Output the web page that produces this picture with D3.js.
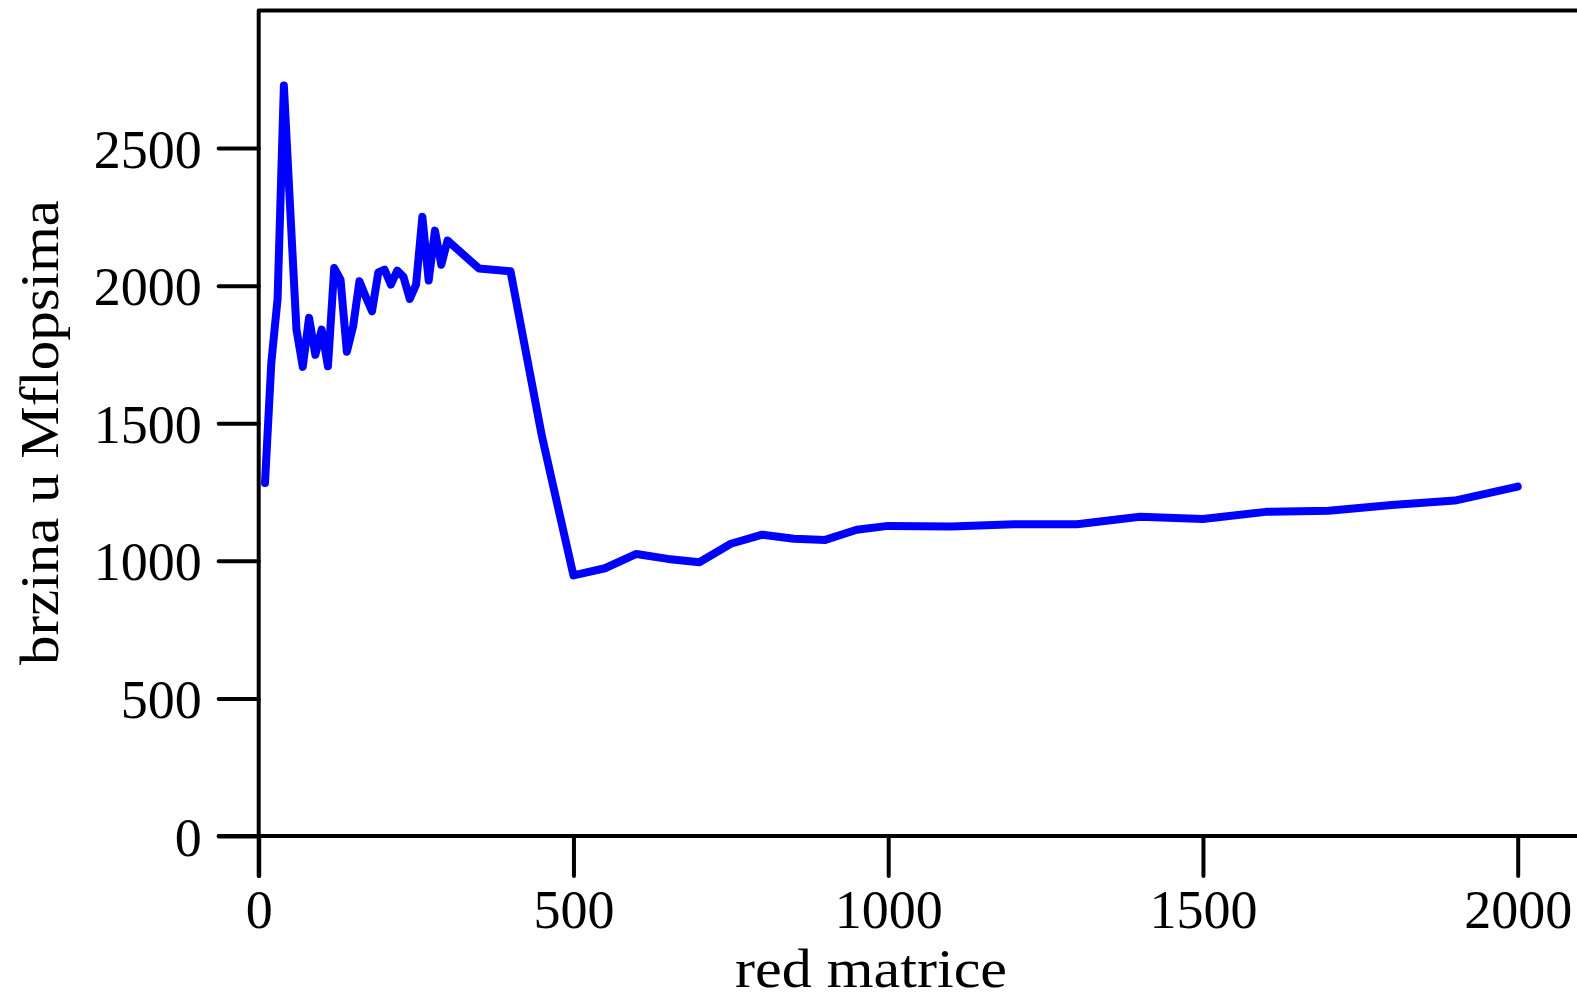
<!DOCTYPE html>
<html>
<head>
<meta charset="utf-8">
<script src="https://cdn.jsdelivr.net/npm/d3@7"></script>
<style>
  html, body { margin: 0; padding: 0; background: #fff; }
  svg { display: block; }
  text { font-family: "Liberation Serif", "DejaVu Serif", serif; fill: #000; }
</style>
</head>
<body>
<svg id="chart" width="1577" height="1000"></svg>
<script>
// Matrix size (red matrice)
const sizes = [10,20,30,40,50,60,70,80,90,100,110,120,130,140,150,160,170,180,190,200,
  210,220,230,240,250,260,270,280,290,300,350,400,450,500,550,600,650,700,750,800,
  850,900,950,1000,1100,1200,1300,1400,1500,1600,1700,1800,1900,2000];
// Speed in Mflops (brzina u Mflopsima)
const speed = [1283,1719,1952,2727,2280,1840,1705,1883,1749,1840,1707,2064,2022,1760,1852,2016,1960,1907,2048,2058,
  2004,2055,2032,1952,2004,2250,2019,2200,2076,2164,2062,2052,1452,947,973,1025,1007,995,1062,1095,
  1080,1076,1113,1127,1125,1133,1133,1160,1152,1178,1182,1203,1219,1270];
const xTicks = [0, 500, 1000, 1500, 2000];
const yTicks = [0, 500, 1000, 1500, 2000, 2500];
const xLabel = "red matrice";
const yLabel = "brzina u Mflopsima";

const W = 1577, H = 1000;
const svg = d3.select("#chart");

const x = d3.scaleLinear().domain([0, 2000]).range([258.7, 1517.7]);
const y = d3.scaleLinear().domain([0, 3000]).range([836, 10.5]);
const tickLen = 40;
const axisW = 4;

// x axis
const gx = svg.append("g").attr("transform", `translate(0,${y(0)})`)
  .call(d3.axisBottom(x).tickValues(xTicks).tickSize(tickLen).tickSizeOuter(0).tickFormat(d3.format("d")));
gx.select(".domain").remove();
gx.selectAll(".tick line").attr("stroke", "#000").attr("stroke-width", axisW).attr("stroke-linecap", "round");
gx.selectAll(".tick text").attr("y", 92).attr("dy", 0)
  .style("font-size", "54px").style("font-family", "'Liberation Serif', serif");

// y axis
const gy = svg.append("g").attr("transform", `translate(${x(0)},0)`)
  .call(d3.axisLeft(y).tickValues(yTicks).tickSize(tickLen).tickSizeOuter(0).tickFormat(d3.format("d")));
gy.select(".domain").remove();
gy.selectAll(".tick line").attr("stroke", "#000").attr("stroke-width", axisW).attr("stroke-linecap", "round");
gy.selectAll(".tick text").attr("x", -57).attr("dy", 19)
  .style("font-size", "54px").style("font-family", "'Liberation Serif', serif");

// frame: left spine (down through x axis), top spine, bottom spine
svg.append("path")
  .attr("d", d3.line()([[x(0), y(0) + tickLen], [x(0), y(3000)], [W + 10, y(3000)]]))
  .attr("fill", "none").attr("stroke", "#000").attr("stroke-width", axisW)
  .attr("stroke-linejoin", "round").attr("stroke-linecap", "round");
svg.append("line")
  .attr("x1", x(0) - tickLen).attr("x2", W + 10)
  .attr("y1", y(0)).attr("y2", y(0))
  .attr("stroke", "#000").attr("stroke-width", axisW).attr("stroke-linecap", "round");

// data line
const data = sizes.map((s, i) => [s, speed[i]]);
svg.append("path")
  .datum(data)
  .attr("d", d3.line().x(d => x(d[0])).y(d => y(d[1])))
  .attr("fill", "none").attr("stroke", "#0000ff").attr("stroke-width", 8)
  .attr("stroke-linejoin", "round").attr("stroke-linecap", "round");

// axis labels
svg.append("text")
  .attr("x", 871).attr("y", 987)
  .attr("text-anchor", "middle")
  .attr("textLength", 272).attr("lengthAdjust", "spacingAndGlyphs")
  .style("font-size", "55px")
  .text(xLabel);

svg.append("text")
  .attr("transform", "translate(58,432.5) rotate(-90)")
  .attr("text-anchor", "middle")
  .attr("textLength", 465).attr("lengthAdjust", "spacingAndGlyphs")
  .style("font-size", "55px")
  .text(yLabel);
</script>
</body>
</html>
